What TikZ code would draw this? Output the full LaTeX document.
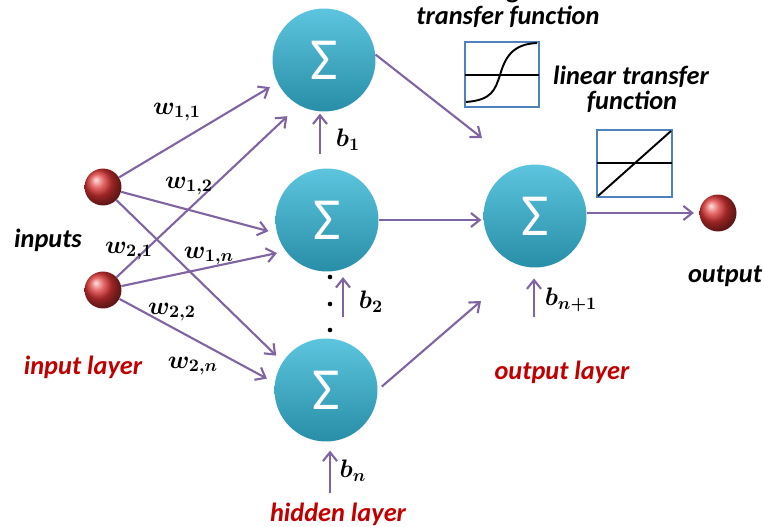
\documentclass[tikz,border=0pt]{standalone}
\usepackage{amsmath}
\usepackage{bm}
\usepackage{fontspec}
\setmainfont{Carlito}
\usetikzlibrary{arrows.meta}

\definecolor{wirepurple}{RGB}{128,100,162}
\definecolor{sumblue}{RGB}{52,182,214}
\definecolor{inred}{RGB}{222,52,52}
\definecolor{layerred}{RGB}{192,0,0}
\definecolor{boxblue}{RGB}{79,129,189}

\tikzset{
    sumnode/.style={circle,minimum size=2.06cm,inner sep=0pt,
        top color=sumblue!80!white,middle color=sumblue,bottom color=sumblue!78!black,
        text=white,font=\fontsize{34}{34}\selectfont},
    innode/.style={circle,minimum size=0.74cm,inner sep=0pt,ball color=inred},
    wire/.style={draw=wirepurple,line width=1.2pt,
        -{Straight Barb[length=5pt,width=8pt]},shorten >=5pt},
    weight/.style={font=\fontsize{14}{16}\selectfont},
    caption/.style={font=\fontsize{15}{18}\selectfont\bfseries\itshape},
    layer/.style={caption,text=layerred},
    tfbox/.style={draw=boxblue,line width=1.1pt},
    tfcurve/.style={line width=1.1pt}
}

\begin{document}
\begin{tikzpicture}[x=0.02cm,y=-0.02cm]
    \useasboundingbox (0,0) rectangle (764,527);
    \clip (0,0) rectangle (764,527);

    % neurons
    \node[innode] (in1) at (103,187) {};
    \node[innode] (in2) at (103,290) {};
    \node[sumnode] (h1) at (324,60) {Σ};
    \node[sumnode] (h2) at (327,220) {Σ};
    \node[sumnode] (h3) at (326,390) {Σ};
    \node[sumnode] (out) at (535,216) {Σ};
    \node[innode] (y) at (718,213) {};

    % input -> hidden weights
    \draw[wire] (in1) -- (h1.206);
    \draw[wire] (in1) -- (h2.195);
    \draw[wire] (in1) -- (h3.147);
    \draw[wire,shorten >=9pt] (in2) -- (h1.241);
    \draw[wire] (in2) -- (h2.217);
    \draw[wire] (in2) -- (h3.172);

    % hidden -> output
    \coordinate (tipa) at (482,138);
    \coordinate (tipb) at (481,301);
    \draw[wire,shorten >=0pt] (h1.6) -- (tipa);
    \draw[wire,shorten >=1pt] (h2.east) -- (h2.east -| out.west);
    \draw[wire,shorten >=0pt,shorten <=3pt] (h3.east) -- (tipb);
    \draw[wire,shorten >=3pt] (out.east |- y) -- (y);

    % biases
    \coordinate (b1) at (320,154);
    \coordinate (b2) at (343,317);
    \coordinate (bn) at (330,493);
    \coordinate (bo) at (534,317);
    \draw[wire,shorten >=1pt] (b1) -- (b1 |- h1.south);
    \draw[wire,shorten >=3pt] (b2) -- (b2 |- h2.south);
    \draw[wire,shorten >=5pt] (bn) -- (bn |- h3.south);
    \draw[wire,shorten >=6pt] (bo) -- (bo |- out.south);
    \node[weight] (lb1) at (348,140) {$\bm{b_1}$};
    \node[weight] (lb2) at (371,302) {$\bm{b_2}$};
    \node[weight] (lbn) at (353,471) {$\bm{b_n}$};
    \node[weight] (lbo) at (571,300) {$\bm{b_{n+1}}$};

    % dots between hidden neurons
    \foreach \yy in {277,304,330}
        \fill (330,\yy) circle (1.3pt);

    % weight labels
    \node[weight] (w11) at (177,112) {$\bm{w_{1,1}}$};
    \node[weight] (w12) at (189,186) {$\bm{w_{1,2}}$};
    \node[weight] (w21) at (129,251) {$\bm{w_{2,1}}$};
    \node[weight] (w1n) at (209,256) {$\bm{w_{1,n}}$};
    \node[weight] (w22) at (172,312) {$\bm{w_{2,2}}$};
    \node[weight] (w2n) at (193,366) {$\bm{w_{2,n}}$};

    % sigmoid transfer function
    \draw[tfbox] (465,42) rectangle (539,107);
    \draw[tfcurve] (465,75) -- (539,75);
    \draw[tfcurve] (466,102) .. controls (492,100) and (495,90) .. (500,75)
        .. controls (505,58) and (512,44) .. (537,43);
    \node[caption,anchor=base west] (sigt) at (484,-1) {sigmoid};
    \node[caption,anchor=base] (sigf) at (508,25) {transfer function};

    % linear transfer function
    \draw[tfbox] (597,130) rectangle (672,197);
    \draw[tfcurve] (597,163) -- (672,163);
    \draw[tfcurve] (598,196) -- (671,131);
    \node[caption] (lint) at (631,77) {linear transfer};
    \node[caption] (linf) at (632,102) {function};

    % captions
    \node[caption] (inputs) at (48,240) {inputs};
    \node[caption] (output) at (725,276) {output};
    \node[layer] (inl) at (83,367) {input layer};
    \node[layer] (hidl) at (338,514) {hidden layer};
    \node[layer] (outl) at (562,372) {output layer};
\end{tikzpicture}
\end{document}
